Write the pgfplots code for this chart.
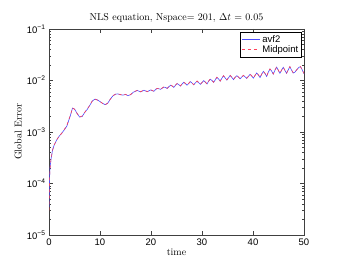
\documentclass[border=0pt]{standalone}
\usepackage{fontspec}
\usepackage{pgfplots}
\pgfplotsset{compat=1.18}
\newfontfamily\helv{Liberation Sans}
\definecolor{mblue}{rgb}{0.3,0.3,1}
\definecolor{mred}{rgb}{1,0.25,0.35}
\begin{document}
\begin{tikzpicture}[x=1pt,y=1pt]
\useasboundingbox (-49,-29) rectangle (288,235);
\begin{axis}[
  scale only axis, width=255pt, height=206pt,
  ymode=log, xmin=0, xmax=50, ymin=1e-5, ymax=1e-1,
  axis line style={line width=0.5pt, black!75},
  tick style={black!75},
  tick align=inside,
  xtick={0,10,20,30,40,50},
  ytick={1e-5,1e-4,1e-3,1e-2,1e-1},
  yticklabels={{10\textsuperscript{−5}},{10\textsuperscript{−4}},{10\textsuperscript{−3}},{10\textsuperscript{−2}},{10\textsuperscript{−1}}},
  tick label style={font=\helv\fontsize{9.5}{10}\selectfont},
  /pgf/number format/assume math mode=true,
  major tick length=4pt, minor tick length=2pt,
  title={NLS equation, Nspace= 201, $\Delta t$ = 0.05},
  title style={font=\fontsize{10}{12}\selectfont, yshift=-3pt},
  xlabel={time}, ylabel={Global Error},
  xlabel style={font=\fontsize{10}{12}\selectfont, yshift=3pt},
  ylabel style={font=\fontsize{10}{12}\selectfont, yshift=-2pt},
  legend style={at={(0.99,0.985)}, anchor=north east, font=\helv\fontsize{9.5}{10}\selectfont,
    inner sep=1pt, row sep=-2pt},
  legend cell align=left,
]
\addplot[color=mblue, line width=0.6pt, forget plot] coordinates {
(0,3.5e-5)(0.1,1.2e-4)(0.2,2.0e-4)(0.4,3.0e-4)(0.7,4.5e-4)(1.0,5.5e-4)(1.5,7e-4)(2,8.3e-4)(2.5,9.5e-4)(3,1.1e-3)(3.5,1.3e-3)(3.8,1.6e-3)(4.2,2.1e-3)(4.6,2.9e-3)(5.0,2.8e-3)(5.5,2.3e-3)(6,1.95e-3)(6.5,2.0e-3)(7,2.4e-3)(7.5,2.75e-3)(8,3.3e-3)(8.5,4.0e-3)(9,4.35e-3)(9.5,4.2e-3)(10,3.9e-3)(10.5,3.6e-3)(11,3.4e-3)(11.5,3.6e-3)(12,4.3e-3)(12.5,5.0e-3)(13,5.4e-3)(13.5,5.5e-3)(14,5.3e-3)(14.5,5.2e-3)(15,5.35e-3)(15.5,5.1e-3)(16,5.3e-3)(16.5,5.9e-3)
(17.0,6.2e-3)(17.325,6.4e-3)(17.65,6.2e-3)(17.975,6.0e-3)(18.3,6.25e-3)(18.625,6.45e-3)(18.95,6.25e-3)(19.275,6.05e-3)(19.6,6.3e-3)(19.925,6.55e-3)(20.25,6.35e-3)(20.575,6.15e-3)
(20.9,6.7e-3)(21.225,7.0e-3)(21.55,6.9e-3)(21.875,6.75e-3)(22.2,7.1e-3)(22.525,7.45e-3)(22.85,7.3e-3)(23.175,7.0e-3)(23.5,7.55e-3)(23.825,8.1e-3)(24.15,7.8e-3)(24.475,7.35e-3)
(24.8,8.1e-3)(25.125,8.7e-3)(25.45,8.3e-3)(25.775,7.8e-3)(26.1,8.55e-3)(26.425,9.2e-3)(26.75,8.7e-3)(27.075,8.1e-3)(27.4,8.8e-3)(27.725,9.5e-3)(28.05,8.9e-3)(28.375,8.25e-3)
(28.7,9.0e-3)(29.025,9.7e-3)(29.35,9.05e-3)(29.675,8.4e-3)(30.0,9.1e-3)(30.325,9.95e-3)(30.65,9.3e-3)(30.975,8.55e-3)(31.3,9.7e-3)(31.625,1.06e-2)(31.95,1.0e-2)(32.275,9.2e-3)
(32.6,1.03e-2)(32.925,1.15e-2)(33.25,1.07e-2)(33.575,9.7e-3)(33.9,1.11e-2)(34.225,1.23e-2)(34.55,1.12e-2)(34.875,1.02e-2)(35.2,1.13e-2)(35.525,1.25e-2)(35.85,1.15e-2)(36.175,1.04e-2)
(36.5,1.15e-2)(36.825,1.24e-2)(37.15,1.16e-2)(37.475,1.08e-2)(37.8,1.17e-2)(38.125,1.25e-2)(38.45,1.18e-2)(38.775,1.1e-2)(39.1,1.2e-2)(39.425,1.32e-2)(39.75,1.22e-2)(40.075,1.11e-2)
(40.4,1.25e-2)(40.725,1.4e-2)(41.05,1.28e-2)(41.375,1.14e-2)(41.7,1.32e-2)(42.025,1.5e-2)(42.35,1.37e-2)(42.675,1.2e-2)(43.0,1.45e-2)(43.325,1.67e-2)(43.65,1.53e-2)(43.975,1.33e-2)
(44.3,1.58e-2)(44.625,1.82e-2)(44.95,1.58e-2)(45.275,1.38e-2)(45.6,1.58e-2)(45.925,1.8e-2)(46.25,1.58e-2)(46.575,1.38e-2)(46.9,1.6e-2)(47.225,1.85e-2)(47.55,1.6e-2)(47.875,1.4e-2)
(48.2,1.45e-2)(48.6,1.62e-2)(49.0,1.8e-2)(49.3,1.85e-2)(49.6,1.65e-2)(50,1.35e-2)
};
\addplot[color=mred, dashed, line width=0.6pt, forget plot] coordinates {
(0,3.0e-5)(0.1,1.1e-4)(0.2,1.9e-4)(0.4,3.0e-4)(0.7,4.4e-4)(1.0,5.6e-4)(1.5,7e-4)(2,8.4e-4)(2.5,9.4e-4)(3,1.12e-3)(3.5,1.35e-3)(3.8,1.65e-3)(4.2,2.1e-3)(4.6,2.95e-3)(5.0,2.75e-3)(5.5,2.3e-3)(6,1.95e-3)(6.5,2.05e-3)(7,2.4e-3)(7.5,2.8e-3)(8,3.3e-3)(8.5,4.05e-3)(9,4.35e-3)(9.5,4.15e-3)(10,3.9e-3)(10.5,3.6e-3)(11,3.35e-3)(11.5,3.65e-3)(12,4.3e-3)(12.5,5.05e-3)(13,5.4e-3)(13.5,5.45e-3)(14,5.35e-3)(14.5,5.15e-3)(15,5.4e-3)(15.5,5.05e-3)(16,5.35e-3)(16.5,5.85e-3)
(17.0,6.25e-3)(17.325,6.45e-3)(17.65,6.25e-3)(17.975,6.05e-3)(18.3,6.3e-3)(18.625,6.5e-3)(18.95,6.3e-3)(19.275,6.1e-3)(19.6,6.35e-3)(19.925,6.6e-3)(20.25,6.4e-3)(20.575,6.2e-3)
(20.9,6.75e-3)(21.225,7.05e-3)(21.55,6.95e-3)(21.875,6.8e-3)(22.2,7.15e-3)(22.525,7.55e-3)(22.85,7.35e-3)(23.175,7.05e-3)(23.5,7.6e-3)(23.825,8.2e-3)(24.15,7.85e-3)(24.475,7.4e-3)
(24.8,8.15e-3)(25.125,8.8e-3)(25.45,8.35e-3)(25.775,7.85e-3)(26.1,8.6e-3)(26.425,9.3e-3)(26.75,8.75e-3)(27.075,8.15e-3)(27.4,8.85e-3)(27.725,9.6e-3)(28.05,8.95e-3)(28.375,8.3e-3)
(28.7,9.05e-3)(29.025,9.8e-3)(29.35,9.1e-3)(29.675,8.45e-3)(30.0,9.15e-3)(30.325,1.0e-2)(30.65,9.35e-3)(30.975,8.6e-3)(31.3,9.75e-3)(31.625,1.07e-2)(31.95,1.01e-2)(32.275,9.25e-3)
(32.6,1.04e-2)(32.925,1.16e-2)(33.25,1.08e-2)(33.575,9.75e-3)(33.9,1.12e-2)(34.225,1.24e-2)(34.55,1.13e-2)(34.875,1.03e-2)(35.2,1.14e-2)(35.525,1.26e-2)(35.85,1.16e-2)(36.175,1.05e-2)
(36.5,1.16e-2)(36.825,1.25e-2)(37.15,1.17e-2)(37.475,1.09e-2)(37.8,1.18e-2)(38.125,1.26e-2)(38.45,1.19e-2)(38.775,1.11e-2)(39.1,1.21e-2)(39.425,1.33e-2)(39.75,1.23e-2)(40.075,1.12e-2)
(40.4,1.26e-2)(40.725,1.41e-2)(41.05,1.29e-2)(41.375,1.15e-2)(41.7,1.33e-2)(42.025,1.51e-2)(42.35,1.38e-2)(42.675,1.21e-2)(43.0,1.46e-2)(43.325,1.68e-2)(43.65,1.54e-2)(43.975,1.34e-2)
(44.3,1.59e-2)(44.625,1.84e-2)(44.95,1.59e-2)(45.275,1.39e-2)(45.6,1.59e-2)(45.925,1.82e-2)(46.25,1.59e-2)(46.575,1.39e-2)(46.9,1.61e-2)(47.225,1.87e-2)(47.55,1.61e-2)(47.875,1.41e-2)
(48.2,1.46e-2)(48.6,1.63e-2)(49.0,1.82e-2)(49.3,1.87e-2)(49.6,1.66e-2)(50,1.36e-2)
};
\addlegendimage{legend image code/.code={\draw[mblue, line width=0.9pt] (0pt,0pt) -- (18pt,0pt);}}
\addlegendentry{avf2}
\addlegendimage{legend image code/.code={\draw[mred, dashed, line width=0.9pt] (0pt,0pt) -- (18pt,0pt);}}
\addlegendentry{Midpoint}
\end{axis}
\end{tikzpicture}
\end{document}
